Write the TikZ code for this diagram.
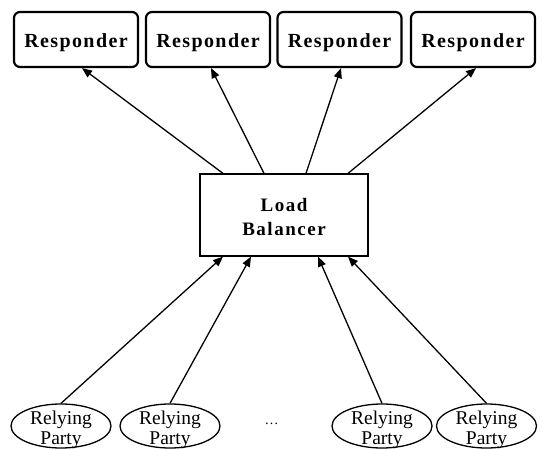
\documentclass[tikz,border=0pt]{standalone}
\usepackage{fontspec}
\setmainfont{Liberation Serif}
\usetikzlibrary{arrows.meta,shapes.geometric}

\begin{document}
\begin{tikzpicture}[x=1pt,y=-1pt,
  resp/.style={draw, line width=2.2pt, rounded corners=6pt,
    minimum width=124pt, minimum height=55pt, inner sep=0pt},
  resptext/.style={inner sep=0pt,
    font=\fontsize{20}{22}\selectfont\bfseries\addfontfeature{LetterSpace=7}},
  balancer/.style={draw, line width=1.2pt, minimum width=168pt,
    minimum height=82pt, inner sep=0pt},
  baltext/.style={inner sep=0pt, align=center,
    font=\fontsize{19}{24}\selectfont\bfseries\addfontfeature{LetterSpace=8}},
  party/.style={draw, ellipse, line width=1.3pt, minimum width=100pt,
    minimum height=44pt, inner sep=0pt},
  partytext/.style={align=center, inner sep=0pt, font=\fontsize{19.5}{20}\selectfont},
  conn/.style={line width=1.3pt, -{Triangle[length=10pt,width=8pt]}}]

\useasboundingbox[fill=white] (0,0) rectangle (543,449);

% responders
\node[resp] (r1) at (76,39.5)    {};
\node[resp] (r2) at (208,39.5)   {};
\node[resp] (r3) at (339.5,39.5) {};
\node[resp] (r4) at (473,39.5)   {};
\foreach \r in {r1,r2,r3,r4}
  \node[resptext] (\r t) at ([yshift=-3pt]\r.center) {Responder};

% load balancer
\node[balancer] (lb) at (284,215) {};
\node[baltext] (lbt) at ([yshift=-2.5pt]lb.center) {Load\\Balancer};

% relying parties
\node[party] (p1) at (61,426)    {};
\node[party] (p2) at (170,426)   {};
\node[party] (p3) at (382,426)   {};
\node[party] (p4) at (486.5,426) {};
\foreach \p in {p1,p2,p3,p4}
  \node[partytext] (\p t) at ([yshift=-3.5pt]\p.center) {Relying\\Party};
\node[anchor=base, inner sep=0pt, font=\fontsize{14}{14}\selectfont] (dots) at (271.5,424) {…};

% balancer to responders
\draw[conn] ([xshift=-61pt]lb.north) -- ([xshift=6pt]r1.south);
\draw[conn] ([xshift=-20pt]lb.north) -- ([xshift=3pt]r2.south);
\draw[conn] ([xshift=22pt]lb.north)  -- ([xshift=1.5pt]r3.south);
\draw[conn] ([xshift=64pt]lb.north)  -- ([xshift=3pt]r4.south);

% relying parties to balancer
\draw[conn] (p1.north) -- ([xshift=-61pt]lb.south);
\draw[conn] (p2.north) -- ([xshift=-33pt]lb.south);
\draw[conn] (p3.north) -- ([xshift=34pt]lb.south);
\draw[conn] (p4.north) -- ([xshift=64pt]lb.south);
\end{tikzpicture}
\end{document}
